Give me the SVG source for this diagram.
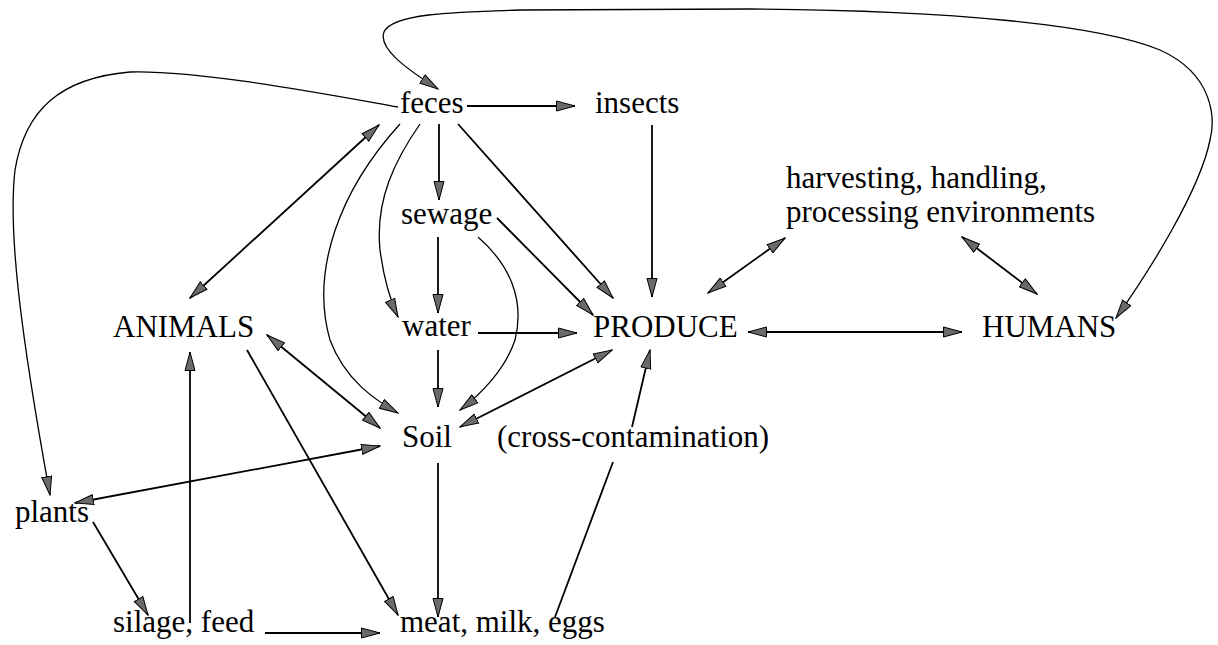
<svg xmlns="http://www.w3.org/2000/svg" width="1218" height="645" viewBox="0 0 1218 645">
<style>
.c{fill:none;stroke:#000;stroke-width:1.8;marker-end:url(#ah)}
.d{marker-start:url(#ah)}
.t{stroke-width:1.3}
.n{marker-end:none}
</style>
<defs>
<marker id="ah" viewBox="0 0 20 12" refX="19" refY="6" markerWidth="20" markerHeight="12" markerUnits="userSpaceOnUse" orient="auto-start-reverse">
<path d="M0.5,1 L19,6 L0.5,11 Z" fill="#6a6a6a" stroke="#000" stroke-width="1"/>
</marker>
</defs>
<rect width="1218" height="645" fill="#fff"/>
<g id="connectors">
<path class="c d t" d="M438,89 C405,68 378,48 384,32 C392,14 450,12 520,10 L750,9 C950,10 1100,25 1160,50 C1215,75 1215,120 1210,140 C1200,190 1150,270 1116,318"/>
<path class="c t" d="M398,107 C330,95 200,70 130,72 C60,78 25,110 15,170 C8,230 20,330 50,495"/>
<path class="c" d="M467,106 L575,106"/>
<path class="c" d="M652,125 L652,297"/>
<path class="c d" d="M379,125 L190,298"/>
<path class="c t" d="M400,124 C340,190 310,270 330,340 C345,380 375,400 398,413"/>
<path class="c t" d="M420,124 C395,160 375,200 380,250 C384,280 390,300 398,317"/>
<path class="c" d="M439,124 L439,200"/>
<path class="c" d="M458,124 L613,298"/>
<path class="c" d="M497,218 L593,315"/>
<path class="c" d="M438,237 L438,313"/>
<path class="c t" d="M478,237 C510,265 525,300 515,340 C505,370 480,395 460,410"/>
<path class="c" d="M438,350 L438,407"/>
<path class="c" d="M478,333 L577,333"/>
<path class="c d" d="M267,335 L380,428"/>
<path class="c d" d="M460,427 L612,350"/>
<path class="c d" d="M75,503 L380,446"/>
<path class="c" d="M93,522 L148,615"/>
<path class="c" d="M190,623 L190,352"/>
<path class="c" d="M247,350 L398,615"/>
<path class="c" d="M438,463 L438,617"/>
<path class="c" d="M265,633 L380,633"/>
<path class="c n" d="M555,617 L613,462"/>
<path class="c" d="M632,427 L650,350"/>
<path class="c d" d="M748,332 L962,332"/>
<path class="c d" d="M708,293 L785,238"/>
<path class="c d" d="M962,237 L1037,294"/>
</g>
<g font-family="Liberation Serif" font-size="31" fill="#000">
<g id="feces"><text x="400" y="113">feces</text></g>
<g id="insects"><text x="595" y="113">insects</text></g>
<g id="harvesting"><text x="786" y="188">harvesting, handling,</text><text x="786" y="222">processing environments</text></g>
<g id="sewage"><text x="401" y="224">sewage</text></g>
<g id="animals"><text x="113" y="337">ANIMALS</text></g>
<g id="water"><text x="402" y="336">water</text></g>
<g id="produce"><text x="593" y="337">PRODUCE</text></g>
<g id="humans"><text x="982" y="337">HUMANS</text></g>
<g id="soil"><text x="402" y="447">Soil</text></g>
<g id="cross"><text x="497" y="447">(cross-contamination)</text></g>
<g id="plants"><text x="15" y="522">plants</text></g>
<g id="silage"><text x="113" y="632">silage, feed</text></g>
<g id="meat"><text x="400" y="632">meat, milk, eggs</text></g>
</g>
</svg>
